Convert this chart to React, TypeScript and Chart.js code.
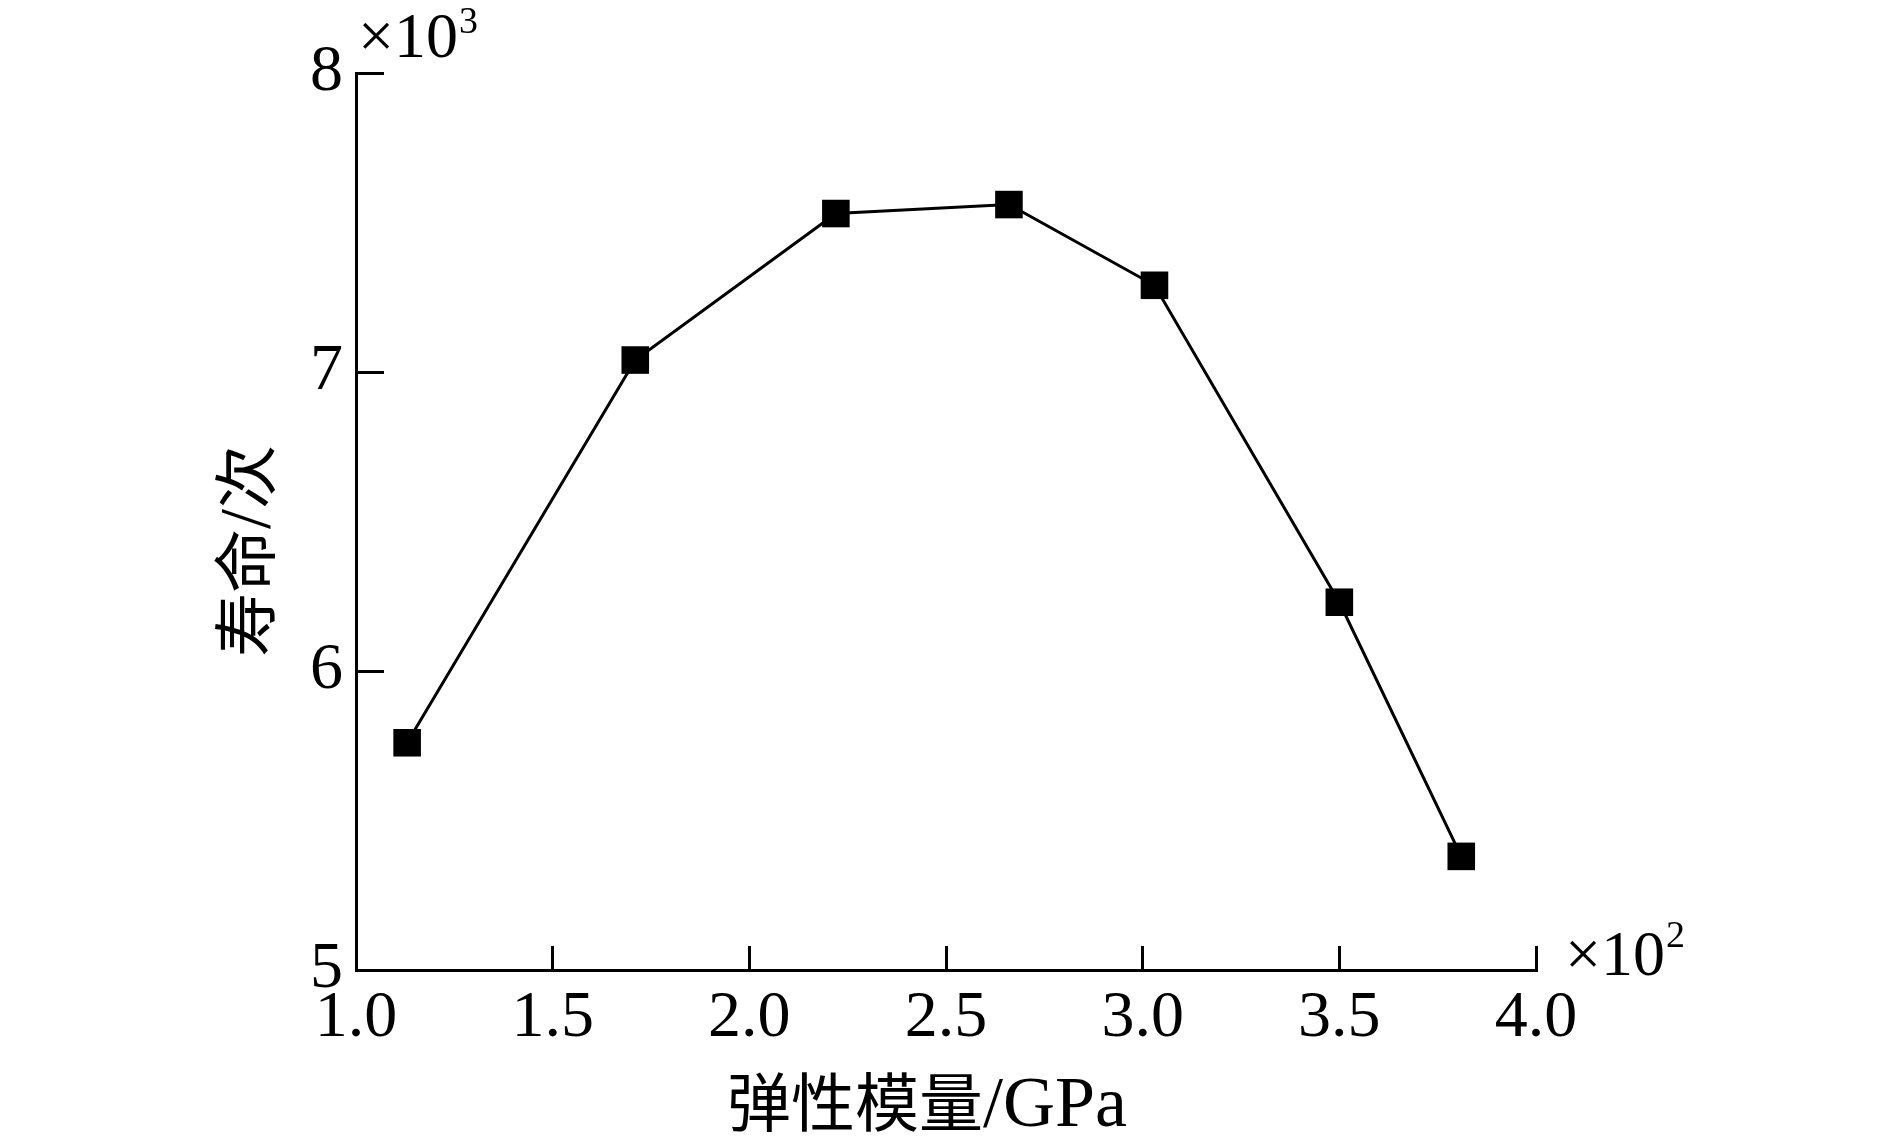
import React, { useEffect, useRef } from "react";
import { Chart, registerables } from "chart.js";

Chart.register(...registerables);

// Data
const modulusValues = [1.13, 1.71, 2.22, 2.66, 3.03, 3.5, 3.81]; // ×10^2 GPa
const lifeValues = [5.76, 7.04, 7.53, 7.56, 7.29, 6.23, 5.38]; // ×10^3 cycles

const xTitle = "弹性模量/GPa";
const yTitle = "寿命/次";
const xMultiplier = ["×10", "2"];
const yMultiplier = ["×10", "3"];

const X_MIN = 1.0;
const X_MAX = 4.0;
const X_STEP = 0.5;
const Y_MIN = 5;
const Y_MAX = 8;
const Y_STEP = 1;

const LATIN = '"Liberation Serif", "Times New Roman", serif';
const CJK = '"Noto Sans CJK SC", "Liberation Serif", serif';

const isCJK = (ch: string) => /[\u3000-\u9fff]/.test(ch);

// draw a mixed string: CJK chars in CJK font, latin in serif font (left aligned)
function drawMixed(ctx: CanvasRenderingContext2D, text: string, x: number, y: number, cjkSize: number, latinSize: number) {
  const runs: { t: string; cjk: boolean }[] = [];
  for (const ch of Array.from(text)) {
    const c = isCJK(ch);
    if (runs.length && runs[runs.length - 1].cjk === c) runs[runs.length - 1].t += ch;
    else runs.push({ t: ch, cjk: c });
  }
  let cx = x;
  for (const r of runs) {
    ctx.font = r.cjk ? `${cjkSize}px ${CJK}` : `${latinSize}px ${LATIN}`;
    ctx.fillText(r.t, cx, y);
    cx += ctx.measureText(r.t).width;
  }
}

const textPlugin = {
  id: "annotTexts",
  afterDraw(chart: any) {
    const ctx = chart.ctx as CanvasRenderingContext2D;
    const { left, right, top, bottom } = chart.chartArea;
    ctx.save();
    ctx.fillStyle = "#000";
    ctx.textBaseline = "alphabetic";
    ctx.textAlign = "left";

    // y multiplier at the top of the y axis
    ctx.font = `64px ${LATIN}`;
    const yx = left + 2;
    const yb = top - 16;
    ctx.fillText(yMultiplier[0], yx, yb);
    const w1 = ctx.measureText(yMultiplier[0]).width;
    ctx.font = `38px ${LATIN}`;
    ctx.fillText(yMultiplier[1], yx + w1 + 1, yb - 24);

    // x multiplier at the right end of the x axis
    ctx.font = `64px ${LATIN}`;
    const xx = right + 29;
    const xb = bottom + 5;
    ctx.fillText(xMultiplier[0], xx, xb);
    const w2 = ctx.measureText(xMultiplier[0]).width;
    ctx.font = `38px ${LATIN}`;
    ctx.fillText(xMultiplier[1], xx + w2 + 1, xb - 28);

    // x axis title
    drawMixed(ctx, xTitle, 727, 1126, 64, 72);

    // y axis title (rotated)
    ctx.translate(269, 657);
    ctx.rotate(-Math.PI / 2);
    drawMixed(ctx, yTitle, 0, 0, 64, 72);
    ctx.restore();
  },
};

export default function App() {
  const canvasRef = useRef<HTMLCanvasElement | null>(null);

  useEffect(() => {
    if (!canvasRef.current) return;
    const points = modulusValues.map((x, i) => ({ x, y: lifeValues[i] }));
    const chart = new Chart(canvasRef.current, {
      type: "line",
      data: {
        datasets: [
          {
            data: points,
            borderColor: "#000",
            backgroundColor: "#000",
            borderWidth: 3,
            pointStyle: "rect",
            pointRadius: 19.5,
            pointBorderWidth: 0,
            pointBackgroundColor: "#000",
            tension: 0,
            fill: false,
          },
        ],
      },
      options: {
        animation: false,
        responsive: false,
        devicePixelRatio: 1,
        layout: { padding: { left: 0, top: 73, right: 353, bottom: 0 } },
        plugins: {
          legend: { display: false },
          tooltip: { enabled: false },
          title: { display: false },
        },
        scales: {
          x: {
            type: "linear",
            min: X_MIN,
            max: X_MAX,
            afterFit(scale: any) {
              scale.height = 170;
              scale.paddingLeft = 0;
              scale.paddingRight = 0;
            },
            border: { display: true, color: "#000", width: 3 },
            grid: {
              drawOnChartArea: false,
              drawTicks: true,
              tickLength: -24,
              tickWidth: 3,
              tickColor: "#000",
              color: "#000",
            },
            ticks: {
              stepSize: X_STEP,
              padding: 33,
              color: "#000",
              font: { family: LATIN, size: 66 },
              maxRotation: 0,
              autoSkip: false,
              callback: (v: any) => Number(v).toFixed(1),
            },
          },
          y: {
            type: "linear",
            min: Y_MIN,
            max: Y_MAX,
            afterFit(scale: any) {
              scale.width = 356;
              scale.paddingTop = 0;
              scale.paddingBottom = 0;
            },
            border: { display: true, color: "#000", width: 3 },
            grid: {
              drawOnChartArea: false,
              drawTicks: true,
              tickLength: -28,
              tickWidth: 3,
              tickColor: "#000",
              color: "#000",
            },
            ticks: {
              stepSize: Y_STEP,
              padding: 41,
              color: "#000",
              font: { family: LATIN, size: 66 },
              autoSkip: false,
              callback: (v: any) => String(v),
            },
          },
        },
      },
      plugins: [textPlugin],
    });
    return () => chart.destroy();
  }, []);

  return (
    <div style={{ position: "absolute", left: 0, top: 0, width: 1889, height: 1140, background: "#fff" }}>
      <canvas ref={canvasRef} width={1889} height={1140} style={{ display: "block" }} />
    </div>
  );
}
